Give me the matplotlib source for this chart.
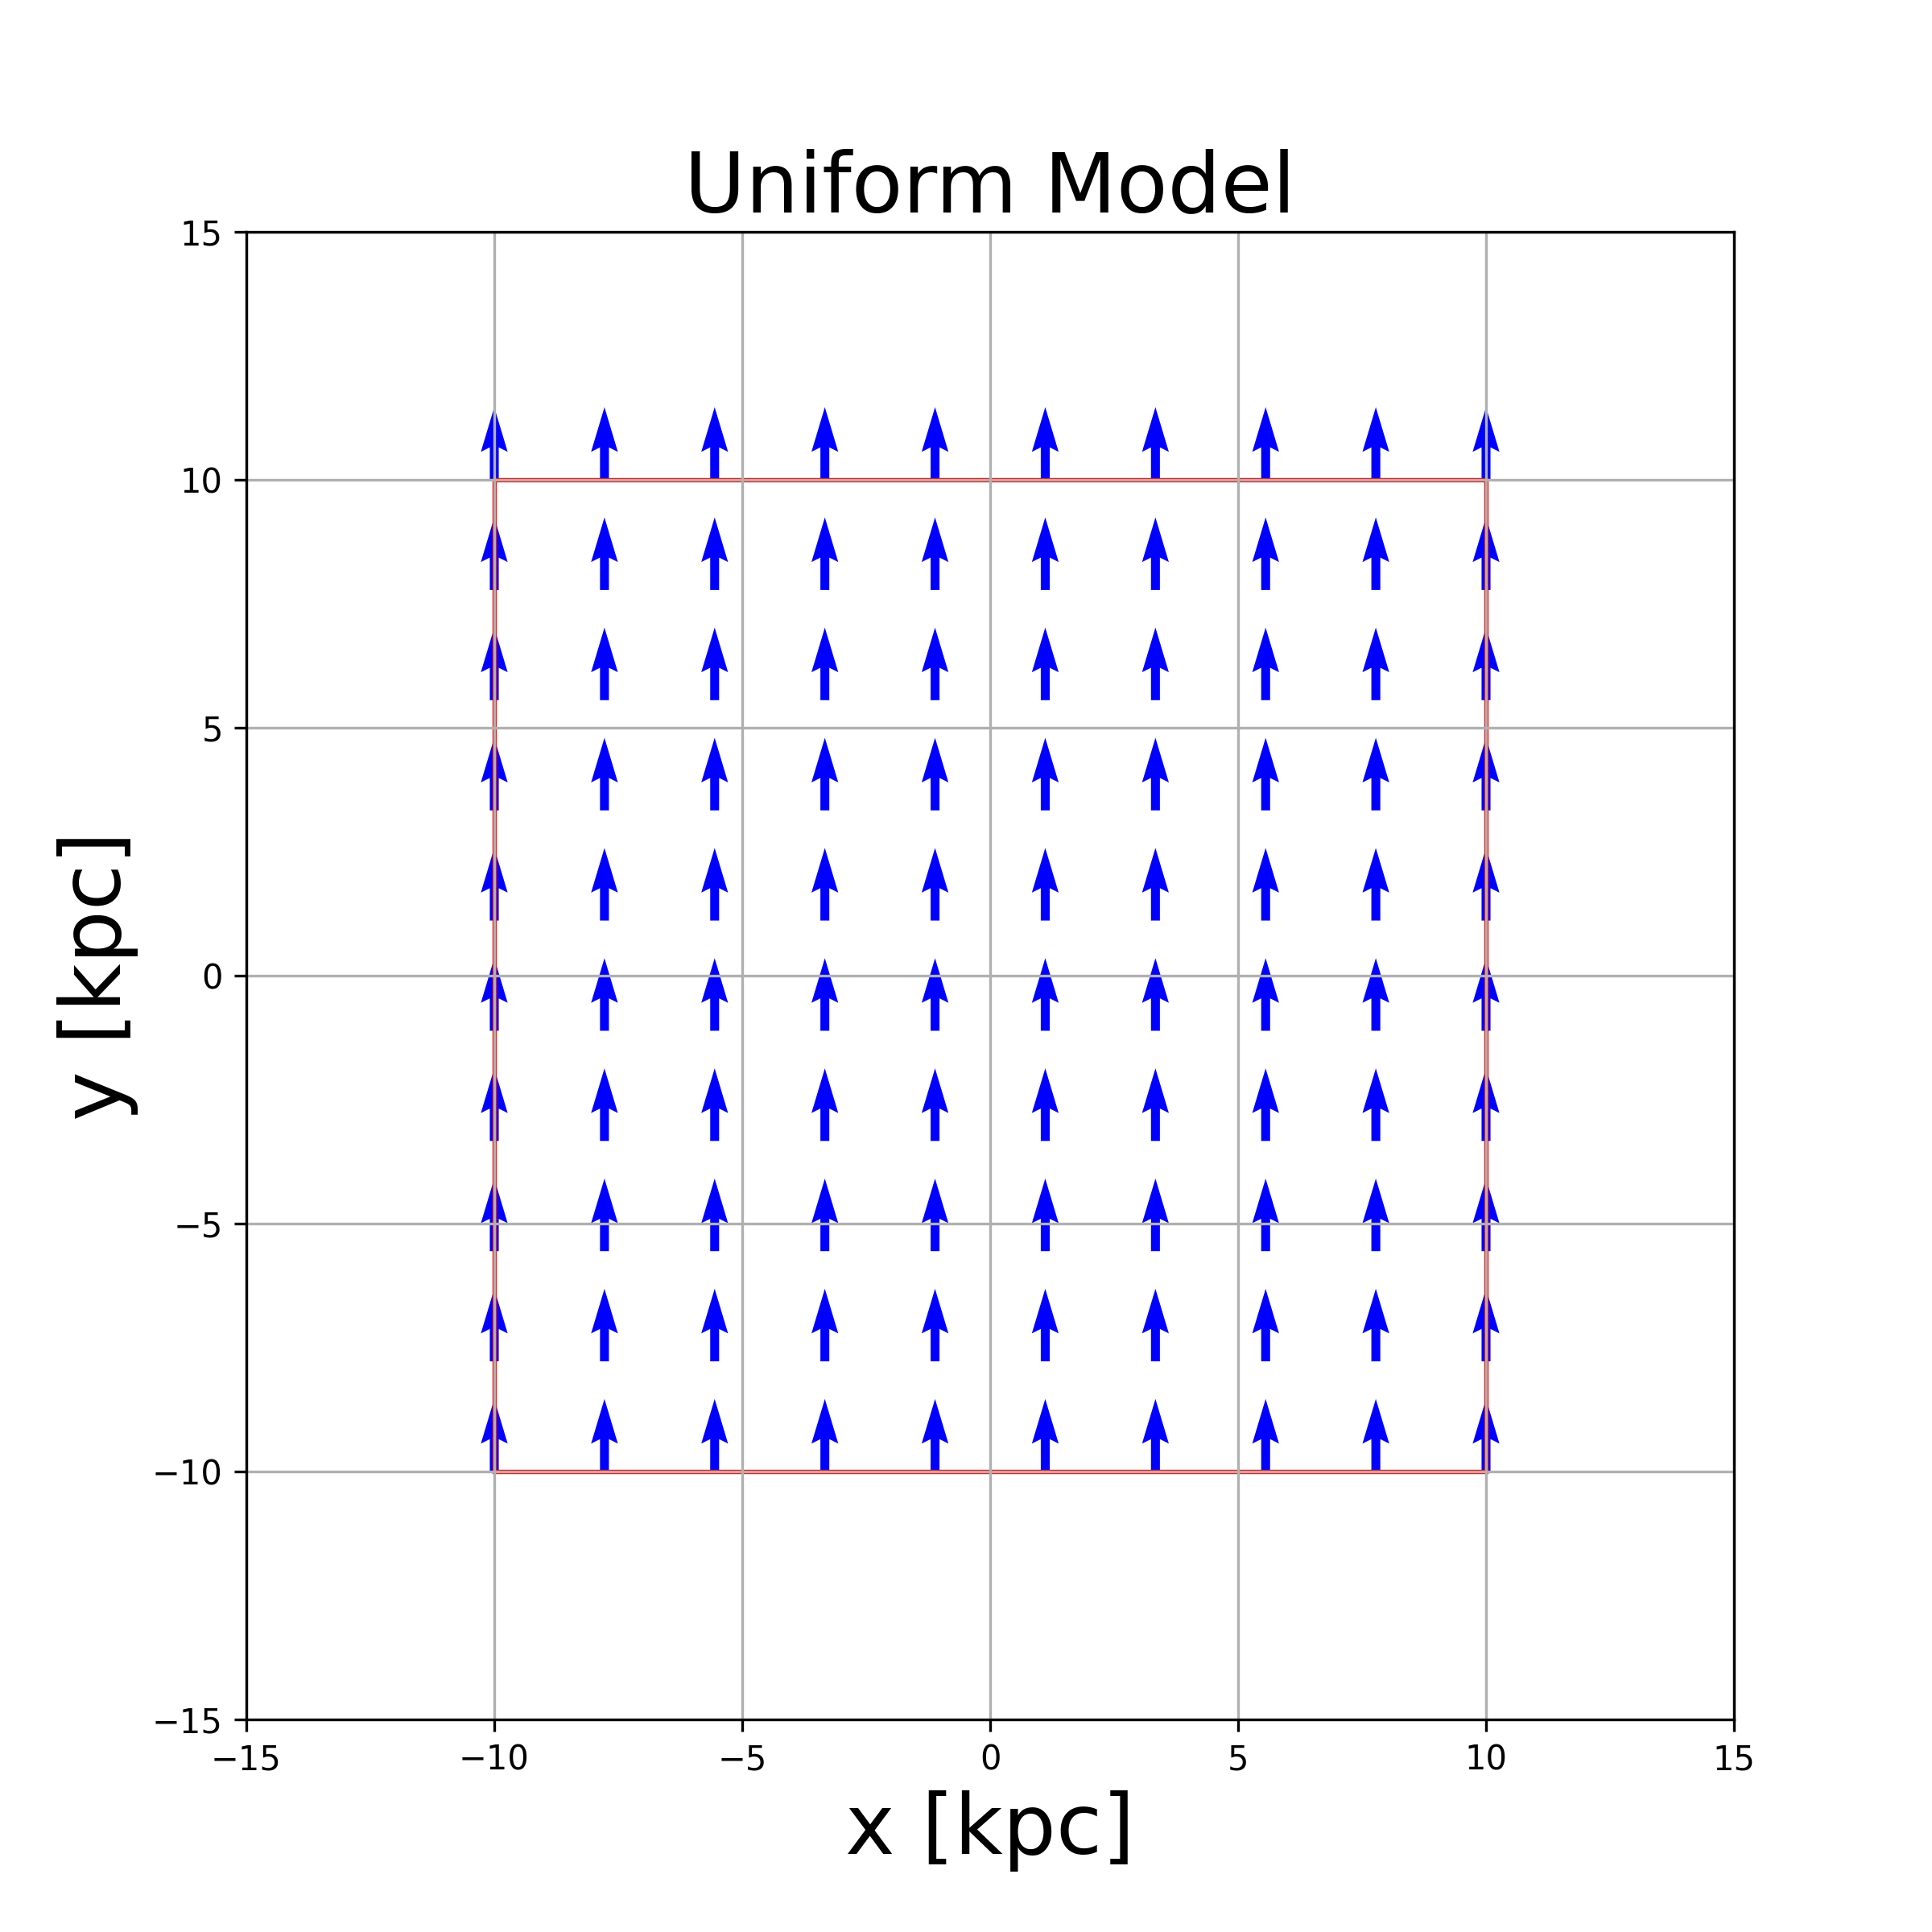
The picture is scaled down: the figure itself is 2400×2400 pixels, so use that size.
import numpy as np
import matplotlib
matplotlib.use("Agg")
import matplotlib.pyplot as plt
from matplotlib.patches import Rectangle

# grid of sample points (kpc)
x_points = np.linspace(-10, 10, 10)
y_points = np.linspace(-10, 10, 10)
# uniform field components
field_u = 0.0
field_v = 1.0
# boundary box
box_xmin, box_ymin, box_size = -10, -10, 20
ticks = [-15, -10, -5, 0, 5, 10, 15]

X, Y = np.meshgrid(x_points, y_points)
U = np.full_like(X, field_u)
V = np.full_like(Y, field_v)

fig, ax = plt.subplots(figsize=(8, 8), dpi=300)
ax.quiver(X, Y, U, V, color='blue', scale=20.5)
ax.add_patch(Rectangle((box_xmin, box_ymin), box_size, box_size,
                       fill=False, edgecolor='red', linewidth=1.3))
ax.set_xlim(-15, 15)
ax.set_ylim(-15, 15)
ax.set_aspect('equal')
ax.set_xticks(ticks)
ax.set_yticks(ticks)
ax.grid(True)
ax.set_title('Uniform Model', fontsize=25)
ax.set_xlabel('x [kpc]', fontsize=25)
ax.set_ylabel('y [kpc]', fontsize=25)
fig.savefig('out.png', dpi=300)
